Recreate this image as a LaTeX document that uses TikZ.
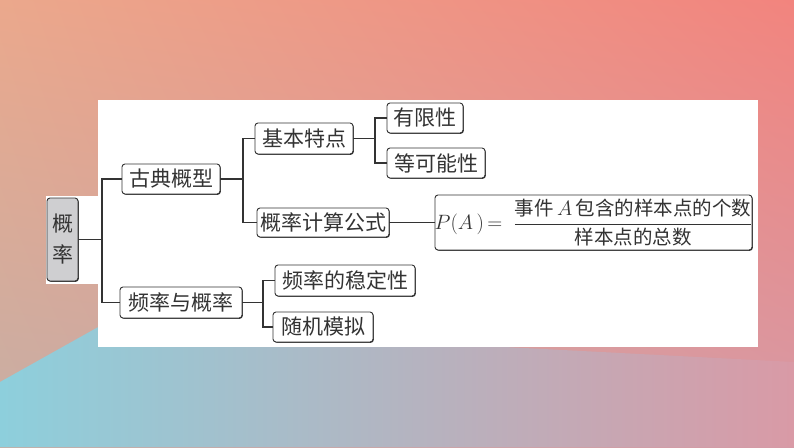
\documentclass[tikz,border=0pt]{standalone}
\usepackage{fontspec}
\newfontfamily\cjk{Noto Sans CJK SC}
\usetikzlibrary{shadows,shadings}
\definecolor{bgTL}{HTML}{EBA88C}
\definecolor{bgTR}{HTML}{F2847E}
\definecolor{bgBL}{HTML}{C6AEA5}
\definecolor{bgBR}{HTML}{D69AA6}
\definecolor{cyanL}{HTML}{8DCFDC}
\definecolor{pinkR}{HTML}{D99AA6}
\definecolor{edge}{HTML}{333333}
\definecolor{rootfill}{HTML}{CFCFD1}
\tikzset{
  box/.style={draw=edge, line width=0.9pt, rounded corners=3pt, fill=white,
    inner sep=0pt, font=\cjk\fontsize{21}{24}\selectfont, text=black!80,
    drop shadow={shadow xshift=0.8pt, shadow yshift=-0.8pt, fill=edge, opacity=1}},
  conn/.style={draw=edge, line width=1.1pt},
}
\begin{document}
\begin{tikzpicture}[x=1pt, y=-1pt]
\useasboundingbox (0,0) rectangle (794,447);
% background
\shade[upper left=bgTL, upper right=bgTR, lower left=bgBL, lower right=bgBR]
  (0,0) rectangle (794,447);
\shade[left color=cyanL, right color=pinkR]
  (0,382) -- (100,326) -- (794,362) -- (794,447) -- (0,447) -- cycle;
% white panel
\fill[white] (98,100) rectangle (758,347);
\fill[white] (45.5,196) rectangle (99,284);
% nodes
\node[box, fill=rootfill, minimum width=31pt, minimum height=83pt, align=center,
  font=\cjk\fontsize{21}{31}\selectfont] (root) at (62.5,239.5) {概\\率};
\node[box, minimum width=98pt, minimum height=30pt] (gudian) at (171,179) {古典概型};
\node[box, minimum width=122pt, minimum height=31pt] (pinlv) at (181,302.5) {频率与概率};
\node[box, minimum width=98pt, minimum height=31pt] (jiben) at (304,138.5) {基本特点};
\node[box, minimum width=132pt, minimum height=29pt] (jisuan) at (323,222.5) {概率计算公式};
\node[box, minimum width=76pt, minimum height=30pt] (youxian) at (425,118) {有限性};
\node[box, minimum width=98pt, minimum height=30pt] (dengke) at (436,163) {等可能性};
\node[box, minimum width=140pt, minimum height=31pt] (wending) at (345,280.5) {频率的稳定性};
\node[box, minimum width=100pt, minimum height=30pt] (moni) at (323,327) {随机模拟};
\node[box, minimum width=317pt, minimum height=55pt,
  font=\cjk\fontsize{19.5}{23}\selectfont] (formula) at (593.5,222.5)
  {\makebox[309pt][c]{$\displaystyle P(A\,)\mkern-2mu=\mkern5mu\frac{\mbox{\cjk 事件\,$A$\,包含的样本点的个数}}{\mbox{\cjk 样本点的总数}}$}};
% junctions
\coordinate (j1) at (102,239.5);
\coordinate (j2) at (243,179);
\coordinate (j3) at (375,138.5);
\coordinate (j4) at (263,302.5);
% connectors
\draw[conn] (root.east) -- (j1);
\draw[conn] (gudian.west) -| (j1);
\draw[conn] (pinlv.west) -| (j1);
\draw[conn] (gudian.east) -- (j2);
\draw[conn] (jiben.west) -| (j2);
\draw[conn] (jisuan.west) -| (j2);
\draw[conn] (jiben.east) -- (j3);
\draw[conn] (youxian.west) -| (j3);
\draw[conn] (dengke.west) -| (j3);
\draw[conn] (jisuan.east) -- (formula.west);
\draw[conn] (pinlv.east) -- (j4);
\draw[conn] (wending.west) -| (j4);
\draw[conn] (moni.west) -| (j4);
\end{tikzpicture}
\end{document}
